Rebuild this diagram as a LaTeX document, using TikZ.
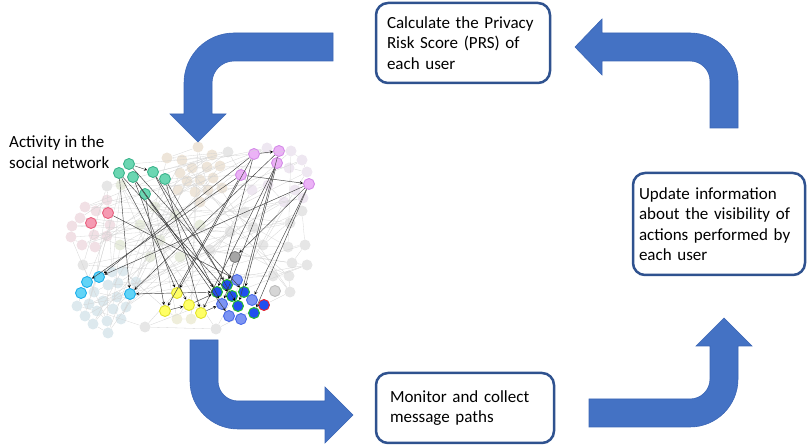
\documentclass[tikz,border=0pt]{standalone}
\usepackage{fontspec}
\setmainfont{Carlito}
\usepackage{tikz}
\usetikzlibrary{shapes, arrows, calc, positioning}

\definecolor{arrowblue}{HTML}{4472C4}
\definecolor{arrowedge}{HTML}{3B66B5}
\definecolor{boxblue}{HTML}{2F528F}
\definecolor{tealfill}{HTML}{6BD6B2}
\definecolor{tealline}{HTML}{3CB48C}
\definecolor{violfill}{HTML}{EBB2F6}
\definecolor{violline}{HTML}{D48BE8}
\definecolor{rosefill}{HTML}{F59AB2}
\definecolor{roseline}{HTML}{E8617F}
\definecolor{cyanfill}{HTML}{62D4F7}
\definecolor{cyanline}{HTML}{1FAFEA}
\definecolor{yelfill}{HTML}{FFFF66}
\definecolor{yelline}{HTML}{E2E22E}
\definecolor{ltbfill}{HTML}{7C94F3}
\definecolor{ltbline}{HTML}{4A6AE8}
\definecolor{dkbfill}{HTML}{1F4FEF}
\definecolor{dkbline}{HTML}{22C322}
\definecolor{redline}{HTML}{E8202A}
\definecolor{fbg}{HTML}{EEE5D9}
\definecolor{flv}{HTML}{EEE7F1}
\definecolor{fgy}{HTML}{E6E6E6}
\definecolor{fpk}{HTML}{F1E0E5}
\definecolor{fbl}{HTML}{DDE9EE}
\definecolor{fgn}{HTML}{E7ECDD}
\definecolor{fyl}{HTML}{EFEEDB}

\begin{document}
\begin{tikzpicture}[x=1pt, y=-1pt, >=stealth]
    \tikzstyle{stage} = [draw=boxblue, line width=2.5pt, rounded corners=12pt,
	fill=white, align=left, inner ysep=0pt, font=\fontsize{17}{20.5}\selectfont]
    \tikzstyle{user} = [draw, circle, line width=0.9pt, minimum size=11pt,
	inner sep=0pt]
    \tikzstyle{faded} = [circle, minimum size=11pt, inner sep=0pt]
    \tikzstyle{faint} = [draw=black!17, line width=0.3pt]
    \tikzstyle{flow} = [fill=arrowblue, draw=arrowedge, line width=0.6pt]

    \useasboundingbox (0,0) rectangle (807,446);

    % background users of the network
    \foreach \x/\y/\c [count=\i] in {198/147/fbg, 167/158/fbg, 182/160/fbg,
	212/155/fbg, 180/173/fbg, 192/168/fbg, 207/167/fbg, 220/166/fbg,
	187/181/fbg, 200/180/fbg, 213/178/fbg, 178/190/fbg, 195/192/fbg,
	208/190/fbg, 222/188/fbg, 200/202/fbg,
	267/148/flv, 291/151/flv, 302/160/flv, 289/168/flv, 307/172/flv,
	295/190/flv, 303/198/flv, 284/202/flv, 268/185/flv, 252/190/flv,
	228/152/fgy, 107/186/fgy, 83/265/fgy, 290/223/fgy, 302/211/fgy,
	263/245/fgy, 253/227/fgy, 288/247/fgy, 305/245/fgy, 292/263/fgy,
	307/265/fgy, 273/276/fgy, 289/276/fgy, 290/292/fgy, 216/329/fgy,
	145/327/fgy, 230/232/fgy, 210/250/fgy, 245/212/fgy,
	85/207/fpk, 96/211/fpk, 107/200/fpk, 80/218/fpk, 72/226/fpk, 71/237/fpk,
	82/245/fpk, 95/247/fpk, 94/235/fpk, 107/236/fpk, 110/225/fpk,
	77/306/fbl, 85/316/fbl, 93/324/fbl, 108/333/fbl, 107/321/fbl, 97/311/fbl,
	89/304/fbl, 103/301/fbl, 113/309/fbl, 121/319/fbl, 126/307/fbl,
	117/297/fbl, 94/292/fbl, 108/285/fbl, 118/283/fbl, 136/282/fbl,
	123/271/fbl, 112/272/fbl,
	121/185/fgn, 150/257/fgn, 180/257/fgn, 140/225/fgn, 160/240/fgn,
	200/225/fgn, 120/245/fgn, 175/215/fgn, 155/207/fgn,
	177/319/fyl, 191/319/fyl}
	\node[faded, fill=\c] (e\i) at (\x,\y) {};

    \foreach \i in {1,...,85}{
	\pgfmathtruncatemacro{\j}{mod(\i*13,85)+1}
	\pgfmathtruncatemacro{\k}{mod(\i,85)+1}
	\draw[faint] (e\i) -- (e\j) (e\i) -- (e\k);
    }

    % highlighted users
    \path
	node[user, fill=tealfill, draw=tealline] (g1) at (129,164) {}
	node[user, fill=tealfill, draw=tealline] (g2) at (119,173) {}
	node[user, fill=tealfill, draw=tealline] (g3) at (133,177) {}
	node[user, fill=tealfill, draw=tealline] (g4) at (153,172) {}
	node[user, fill=tealfill, draw=tealline] (g5) at (165,179) {}
	node[user, fill=tealfill, draw=tealline] (g6) at (145,194) {}
	node[user, fill=violfill, draw=violline] (v1) at (254,154) {}
	node[user, fill=violfill, draw=violline] (v2) at (279,151) {}
	node[user, fill=violfill, draw=violline] (v3) at (277,163) {}
	node[user, fill=violfill, draw=violline] (v4) at (241,175) {}
	node[user, fill=violfill, draw=violline] (v5) at (309,184) {}
	node[user, fill=rosefill, draw=roseline] (r1) at (108,213) {}
	node[user, fill=rosefill, draw=roseline] (r2) at (91,223) {}
	node[user, fill=cyanfill, draw=cyanline] (c1) at (99,277) {}
	node[user, fill=cyanfill, draw=cyanline] (c2) at (87,282) {}
	node[user, fill=cyanfill, draw=cyanline] (c3) at (81,293) {}
	node[user, fill=cyanfill, draw=cyanline] (c4) at (130,294) {}
	node[user, fill=yelfill, draw=yelline] (y1) at (177,293) {}
	node[user, fill=yelfill, draw=yelline] (y2) at (189,305) {}
	node[user, fill=yelfill, draw=yelline] (y3) at (165,311) {}
	node[user, fill=yelfill, draw=yelline] (y4) at (201,313) {}
	node[user, fill=black!35, draw=black!50] (k1) at (235,257) {}
	node[user, fill=black!16, draw=black!26] (k2) at (275,291) {}
	node[user, fill=ltbfill, draw=ltbline] (b1) at (237,280) {}
	node[user, fill=ltbfill, draw=ltbline] (b2) at (222,304) {}
	node[user, fill=ltbfill, draw=ltbline] (b3) at (252,300) {}
	node[user, fill=ltbfill, draw=ltbline] (b4) at (229,316) {}
	node[user, fill=ltbfill, draw=ltbline] (b5) at (241,319) {}
	node[user, fill=dkbfill, draw=dkbline] (d1) at (227,285) {}
	node[user, fill=dkbfill, draw=dkbline] (d2) at (217,292) {}
	node[user, fill=dkbfill, draw=dkbline] (d3) at (232,296) {}
	node[user, fill=dkbfill, draw=dkbline] (d4) at (244,292) {}
	node[user, fill=dkbfill, draw=dkbline] (d5) at (238,306) {}
	node[user, fill=dkbfill, draw=dkbline] (d6) at (254,313) {}
	node[user, fill=dkbfill, draw=redline] (d7) at (264,305) {};

    \path[faint]
	(g1) edge (v1)
	(g4) edge (e17)
	(g5) edge (v4)
	(v1) edge (e18);

    \path[->, draw=black!75, line width=0.45pt]
	(g1) edge (g4)
	(g1) edge (d4)
	(g2) edge (d3)
	(g2) edge (y2)
	(g2) edge (c4)
	(g3) edge (d2)
	(g3) edge (b4)
	(g3) edge (y1)
	(g4) edge (d1)
	(g4) edge (b2)
	(g5) edge (d5)
	(g5) edge (y4)
	(g6) edge (y3)
	(g6) edge (d2)
	(v1) edge (v2)
	(v4) edge (v5)
	(v1) edge (c1)
	(v1) edge (d2)
	(v1) edge (y1)
	(v4) edge (c2)
	(v4) edge (y3)
	(v3) edge (d4)
	(v3) edge (b2)
	(v3) edge (y4)
	(v2) edge (d5)
	(v2) edge (c4)
	(v5) edge (c1)
	(v5) edge (d6)
	(v5) edge (b3)
	(v5) edge (k1)
	(r1) edge (b1)
	(y1) edge (c4)
	(y1) edge (d2)
	(y2) edge (d2)
	(y4) edge (b2)
	(y3) edge (y2)
	(k1) edge (d1);

    \node[anchor=west, align=left, inner sep=0pt,
	font=\fontsize{17}{20.5}\selectfont] (net) at (9,152)
	{Activity in the\\social network};

    % the four steps
    \node[stage, minimum width=174pt, minimum height=80pt, text width=152pt,
	inner xsep=11pt] (prs) at (463,43)
	{Calculate the Privacy\\Risk Score (PRS) of\\each user};
    \node[stage, minimum width=172pt, minimum height=102pt, text width=160pt,
	inner xsep=6pt] (vis) at (719,224)
	{Update information\\about the visibility of\\actions performed by\\each user};
    \node[stage, minimum width=178pt, minimum height=70pt, text width=150pt,
	inner xsep=14pt] (mon) at (465,408)
	{Monitor and collect\\message paths};

    % block arrows between the steps
    \path[flow] (333,33) -- (234,33) arc[start angle=270, end angle=180, radius=50]
	-- (184,114) -- (170,114) -- (198,142) -- (226,114) -- (212,114)
	-- (212,83) arc[start angle=180, end angle=270, radius=22] -- (333,61) -- cycle;
    \path[flow] (190,340) -- (190,381) arc[start angle=180, end angle=90, radius=48]
	-- (325,429) -- (325,443) -- (353,415) -- (325,387) -- (325,401)
	-- (238,401) arc[start angle=90, end angle=180, radius=20] -- (218,340) -- cycle;
    \path[flow] (589,427) -- (690,427) arc[start angle=90, end angle=0, radius=48]
	-- (738,346) -- (752,346) -- (724,318) -- (696,346) -- (710,346)
	-- (710,379) arc[start angle=0, end angle=90, radius=20] -- (589,399) -- cycle;
    \path[flow] (738,128) -- (738,81) arc[start angle=0, end angle=-90, radius=48]
	-- (602,33) -- (602,19) -- (575,47) -- (602,75) -- (602,61)
	-- (690,61) arc[start angle=-90, end angle=0, radius=20] -- (710,128) -- cycle;

\end{tikzpicture}
\end{document}
